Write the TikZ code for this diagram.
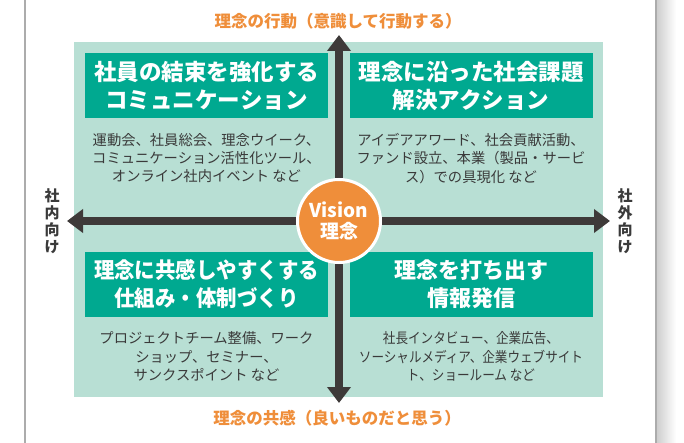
\documentclass[tikz,border=0pt]{standalone}
\usepackage{fontspec}
\setmainfont{Noto Sans CJK JP}
\usetikzlibrary{arrows.meta}
\definecolor{bgg}{HTML}{B8DFD4}
\definecolor{tealbox}{HTML}{00A990}
\definecolor{orng}{HTML}{EF8E3A}
\definecolor{darkar}{HTML}{3E3A39}
\definecolor{txtg}{HTML}{3A3A3A}
\begin{document}
\begin{tikzpicture}[x=1pt,y=-1pt,
  tbox/.style={fill=tealbox, inner sep=0pt, minimum width=243pt, minimum height=65pt},
  ttext/.style={text=white, inner sep=0pt, align=center, font=\bfseries\fontsize{22}{28}\selectfont},
  desc/.style={text=txtg, inner sep=0pt, align=center, font=\fontsize{14.3}{18.2}\selectfont},
  otitle/.style={text=orng, inner sep=0pt, font=\bfseries\fontsize{16.5}{18}\selectfont},
  side/.style={text=txtg, inner sep=0pt, align=center, font=\bfseries\fontsize{15}{17}\selectfont},
  axis/.style={darkar, line width=8.5pt, {Triangle[width=23pt,length=16pt]}-{Triangle[width=23pt,length=16pt]}},
  framel/.style={gray!65, line width=1.2pt}
]
\useasboundingbox (0,0) rectangle (684,443);
\fill[white] (0,0) rectangle (684,443);
\shade[left color=black!20, right color=white] (656,0) rectangle (676,443);
\draw[framel] (25,0) -- (25,443);
\draw[framel] (656,0) -- (656,443);
\fill[bgg] (74,42) rectangle (603,397);

% axes
\coordinate (ltip) at (67,221);
\coordinate (rtip) at (610,221);
\coordinate (ttip) at (339,35);
\coordinate (btip) at (339,403);
\draw[axis] (ltip) -- (rtip);
\draw[axis] (ttip) -- (btip);

% quadrant boxes
\node[tbox] (tl) at (206.5,85.5) {};
\node[tbox] (tr) at (471,85.5) {};
\node[tbox] (bl) at (206.5,284.5) {};
\node[tbox] (br) at (471,284.5) {};
\node[ttext, font=\bfseries\fontsize{22.5}{28}\selectfont] (tlt) at (tl) {社員の結束を強化する\\コミュニケーション};
\node[ttext, font=\bfseries\fontsize{22.5}{28}\selectfont] (trt) at (tr) {理念に沿った社会課題\\解決アクション};
\begin{scope}[shift={(206.5,284.5)}]
\node[ttext, xscale=0.93, transform shape] (blt) at (0,0) {理念に共感しやすくする\\仕組み・体制づくり};
\end{scope}
\node[ttext] (brt) at (br) {理念を打ち出す\\情報発信};

\node[desc] (tld) at (206.5,158) {運動会、社員総会、理念ウイーク、\\コミュニケーション活性化ツール、\\オンライン社内イベント など};
\node[desc] (trd) at (471,158.5) {アイデアアワード、社会貢献活動、\\ファンド設立、本業（製品・サービ\\ス）での具現化 など};
\node[desc] (bld) at (206.5,356.5) {プロジェクトチーム整備、ワーク\\ショップ、セミナー、\\サンクスポイント など};
\begin{scope}[shift={(471,356.5)}]
\node[desc, xscale=0.88, transform shape] (brd) at (0,0) {社長インタビュー、企業広告、\\ソーシャルメディア、企業ウェブサイト\\ト、ショールーム など};
\end{scope}

% center
\node[circle, fill=orng, draw=white, line width=3pt, minimum size=83pt, inner sep=0pt, text=white, align=center, font=\bfseries\fontsize{19}{21}\selectfont] (vision) at (339,221) {Vision\\理念};

% labels
\node[otitle] (ttop) at (338,21) {理念の行動（意識して行動する）};
\node[otitle] (tbot) at (337,418) {理念の共感（良いものだと思う）};
\node[side] (lside) at (52,221) {社\\内\\向\\け};
\node[side] (rside) at (625,221) {社\\外\\向\\け};
\end{tikzpicture}
\end{document}
